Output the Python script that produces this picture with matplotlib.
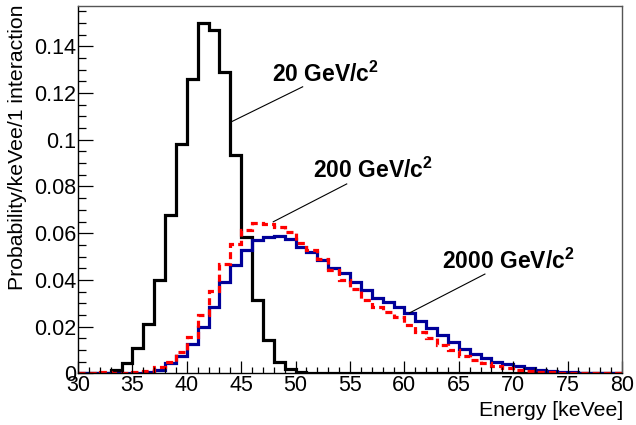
import numpy as np
import matplotlib
matplotlib.use("Agg")
import matplotlib.pyplot as plt
from matplotlib.ticker import MultipleLocator

plt.rcParams['font.family'] = ['Liberation Sans', 'DejaVu Sans']
plt.rcParams['mathtext.fontset'] = 'custom'
plt.rcParams['mathtext.rm'] = 'Liberation Sans'
plt.rcParams['mathtext.bf'] = 'Liberation Sans:bold'

# ---- data ----
bin_edges = np.arange(30, 81)  # 1 keVee bins from 30 to 80

m20 = [0, 0, 0.0003, 0.0012, 0.0046, 0.0108, 0.0213, 0.040, 0.068, 0.098,
       0.126, 0.150, 0.147, 0.129, 0.0936, 0.0585, 0.0312, 0.0142, 0.0047, 0.0017,
       0.0006, 0.0002, 0, 0, 0, 0, 0, 0, 0, 0,
       0, 0, 0, 0, 0, 0, 0, 0, 0, 0,
       0, 0, 0, 0, 0, 0, 0, 0, 0, 0]

m200 = [0.0001, 0.0001, 0.0004, 0.0002, 0.0002, 0.0004, 0.0010, 0.0028, 0.0050, 0.0093,
        0.0157, 0.025, 0.0354, 0.047, 0.0552, 0.0614, 0.0645, 0.064, 0.0628, 0.0607,
        0.0557, 0.0528, 0.0488, 0.0442, 0.040, 0.036, 0.0314, 0.0283, 0.0264, 0.024,
        0.0207, 0.0178, 0.015, 0.0121, 0.0100, 0.0076, 0.0058, 0.0043, 0.0030, 0.0021,
        0.0015, 0.0010, 0.0006, 0.0004, 0.0003, 0.0002, 0.0002, 0.0001, 0.0001, 0.0001]

m2000 = [0.0001, 0.0001, 0.0001, 0.0001, 0.0001, 0.0003, 0.0006, 0.0016, 0.0043, 0.0075,
         0.0125, 0.020, 0.0285, 0.039, 0.0464, 0.053, 0.057, 0.0582, 0.0588, 0.0574,
         0.0542, 0.0521, 0.0485, 0.0452, 0.0431, 0.0392, 0.0358, 0.0324, 0.0307, 0.0285,
         0.026, 0.0222, 0.0194, 0.0164, 0.0133, 0.0103, 0.0084, 0.0067, 0.005, 0.0039,
         0.0030, 0.0022, 0.0012, 0.0009, 0.0007, 0.0005, 0.0003, 0.0003, 0.0002, 0.0002]

labels = ["20 GeV/c$^{\\mathbf{2}}$", "200 GeV/c$^{\\mathbf{2}}$", "2000 GeV/c$^{\\mathbf{2}}$"]
label_pos = [(47.85, 0.1249), (51.6, 0.0836), (63.5, 0.0449)]
line_from = [(50.65, 0.1227), (54.7, 0.0811), (67.4, 0.0425)]
line_to = [(44.05, 0.1076), (47.95, 0.0649), (60.45, 0.0258)]

# ---- figure ----
W, H = 636, 425
fig = plt.figure(figsize=(W / 100, H / 100), dpi=100)
left, right, top, bottom = 78, 622, 6, 373.3
ax = fig.add_axes([left / W, 1 - bottom / H, (right - left) / W, (bottom - top) / H])

ax.stairs(m20, bin_edges, baseline=None, color='black', lw=2.3)
ax.stairs(m2000, bin_edges, baseline=None, color='#000099', lw=2.3)
ax.stairs(m200, bin_edges, baseline=None, color='#ff0000', lw=2.3,
          linestyle=(0, (2.2, 1.3)))

ax.set_xlim(30, 80)
ax.set_ylim(0, 0.1573)

ax.xaxis.set_major_locator(MultipleLocator(5))
ax.xaxis.set_minor_locator(MultipleLocator(1))
ax.yaxis.set_major_locator(MultipleLocator(0.02))
ax.yaxis.set_minor_locator(MultipleLocator(0.005))
ax.set_yticks([0, 0.02, 0.04, 0.06, 0.08, 0.10, 0.12, 0.14])
ax.set_yticklabels(['0', '0.02', '0.04', '0.06', '0.08', '0.1', '0.12', '0.14'])

ax.tick_params(axis='x', which='major', direction='in', length=8.6, width=0.9,
               labelsize=15.5, pad=1.5, top=False)
ax.tick_params(axis='x', which='minor', direction='in', length=4.3, width=0.9, top=False)
ax.tick_params(axis='y', which='major', direction='in', length=10.8, width=0.9,
               labelsize=15.5, pad=1.5, right=False)
ax.tick_params(axis='y', which='minor', direction='in', length=5.4, width=0.9, right=False)

for s in ['left', 'bottom']:
    ax.spines[s].set_color('black')
    ax.spines[s].set_linewidth(1.0)
for s in ['top', 'right']:
    ax.spines[s].set_color('#555555')
    ax.spines[s].set_linewidth(1.0)

fig.text(623 / W, 1 - 415.7 / H, 'Energy [keVee]', ha='right', va='baseline', fontsize=15.3)
fig.text(18 / W, 1 - 5 / H, 'Probability/keVee/1 interaction', rotation=90,
         ha='center', va='top', fontsize=15.3)

for lab, (tx, ty), (x0, y0), (x1, y1) in zip(labels, label_pos, line_from, line_to):
    ax.text(tx, ty, lab, ha='left', va='baseline', fontsize=16.5, fontweight='bold')
    ax.plot([x0, x1], [y0, y1], color='black', lw=0.8)

fig.savefig('out.png', dpi=100)
